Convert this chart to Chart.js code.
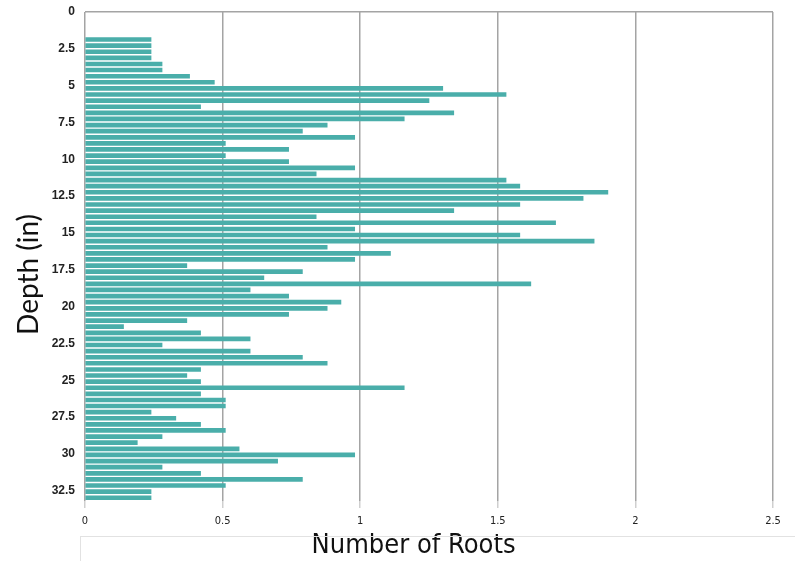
<!DOCTYPE html>
<html>
<head>
<meta charset="utf-8">
<script src="https://cdn.jsdelivr.net/npm/chart.js@4/dist/chart.umd.min.js"></script>
<style>
  html, body { margin: 0; padding: 0; background: #fff; }
  #wrap { width: 795px; height: 561px; position: relative; }
</style>
</head>
<body>
<div id="wrap"><canvas id="roots"></canvas></div>
<script>
// depth of each sample (in), top to bottom
const depths = [
  1.87, 2.28, 2.70, 3.11, 3.53, 3.94, 4.36, 4.77, 5.19, 5.60,
  6.02, 6.43, 6.85, 7.26, 7.68, 8.09, 8.51, 8.92, 9.33, 9.75,
  10.16, 10.58, 10.99, 11.41, 11.82, 12.24, 12.65, 13.07, 13.48, 13.90,
  14.31, 14.73, 15.14, 15.56, 15.97, 16.39, 16.80, 17.22, 17.63, 18.04,
  18.46, 18.87, 19.29, 19.70, 20.12, 20.53, 20.95, 21.36, 21.78, 22.19,
  22.61, 23.02, 23.44, 23.85, 24.27, 24.68, 25.10, 25.51, 25.93, 26.34,
  26.75, 27.17, 27.58, 28.00, 28.41, 28.83, 29.24, 29.66, 30.07, 30.49,
  30.90, 31.32, 31.73, 32.15, 32.56, 32.98
];
// number of roots at each depth
const roots = [
  0.24, 0.24, 0.24, 0.24, 0.28, 0.28, 0.38, 0.47, 1.30, 1.53,
  1.25, 0.42, 1.34, 1.16, 0.88, 0.79, 0.98, 0.51, 0.74, 0.51,
  0.74, 0.98, 0.84, 1.53, 1.58, 1.90, 1.81, 1.58, 1.34, 0.84,
  1.71, 0.98, 1.58, 1.85, 0.88, 1.11, 0.98, 0.37, 0.79, 0.65,
  1.62, 0.60, 0.74, 0.93, 0.88, 0.74, 0.37, 0.14, 0.42, 0.60,
  0.28, 0.60, 0.79, 0.88, 0.42, 0.37, 0.42, 1.16, 0.42, 0.51,
  0.51, 0.24, 0.33, 0.42, 0.51, 0.28, 0.19, 0.56, 0.98, 0.70,
  0.28, 0.42, 0.79, 0.51, 0.24, 0.24
];
const depthTicks = [0, 2.5, 5, 7.5, 10, 12.5, 15, 17.5, 20, 22.5, 25, 27.5, 30, 32.5];
const rootTicks = [0, 0.5, 1, 1.5, 2, 2.5];

const points = depths.map((d, i) => ({ x: roots[i], y: d }));

// thin separator under the tick labels
const separator = {
  id: "separator",
  afterDraw(chart) {
    const ctx = chart.ctx;
    const y = chart.scales.x.bottom - 25;
    ctx.save();
    ctx.strokeStyle = "#e2e2e2";
    ctx.lineWidth = 1;
    ctx.beginPath();
    ctx.moveTo(80, y + 0.5);
    ctx.lineTo(chart.width, y + 0.5);
    ctx.moveTo(80.5, y);
    ctx.lineTo(80.5, chart.height);
    ctx.stroke();
    ctx.restore();
  }
};

new Chart(document.getElementById("roots"), {
  type: "bar",
  data: {
    datasets: [{
      data: points,
      backgroundColor: "#4aaeaa",
      barThickness: 4
    }]
  },
  options: {
    indexAxis: "y",
    responsive: true,
    maintainAspectRatio: false,
    animation: false,
    layout: { padding: { top: 12, right: 22, left: 0, bottom: 0 } },
    plugins: { legend: { display: false }, tooltip: { enabled: false } },
    scales: {
      x: {
        type: "linear",
        min: 0,
        max: 2.5,
        afterBuildTicks(scale) { scale.ticks = rootTicks.map(v => ({ value: v })); },
        ticks: {
          padding: 7,
          color: "#222",
          callback: v => String(v),
          font: { family: "'Liberation Sans Narrow', 'DejaVu Sans Condensed', 'Liberation Sans', sans-serif", size: 11 }
        },
        grid: { color: "#a4a4a4", lineWidth: 1.5, tickLength: 7, tickColor: "#cfcfcf" },
        border: { display: false },
        title: {
          display: true,
          text: "Number of Roots    ",
          color: "#111",
          padding: 0,
          font: { family: "'Liberation Sans Narrow', 'DejaVu Sans Condensed', sans-serif", size: 27, lineHeight: 1.1 }
        },
        afterFit(scale) { scale.height = 60; }
      },
      y: {
        type: "linear",
        reverse: true,
        offset: false,
        min: 0,
        max: 33.2,
        afterBuildTicks(scale) { scale.ticks = depthTicks.map(v => ({ value: v })); },
        ticks: {
          padding: 10,
          color: "#222",
          callback: v => String(v),
          font: { family: "'Liberation Sans', Arial, sans-serif", size: 12, weight: "bold" }
        },
        grid: {
          offset: false,
          drawTicks: false,
          lineWidth: 1.5,
          color: ctx => (ctx.tick && ctx.tick.value === 0 ? "#a4a4a4" : "rgba(0,0,0,0)")
        },
        border: { display: false },
        title: {
          display: true,
          text: "Depth (in)     ",
          color: "#111",
          padding: { top: 12, bottom: 0 },
          font: { family: "Lato, 'Open Sans', sans-serif", size: 28, lineHeight: 1.2 }
        },
        afterFit(scale) {
          scale.width = 85;
          scale.paddingTop = 0;
          scale.paddingBottom = 0;
        }
      }
    }
  },
  plugins: [separator]
});
</script>
</body>
</html>
